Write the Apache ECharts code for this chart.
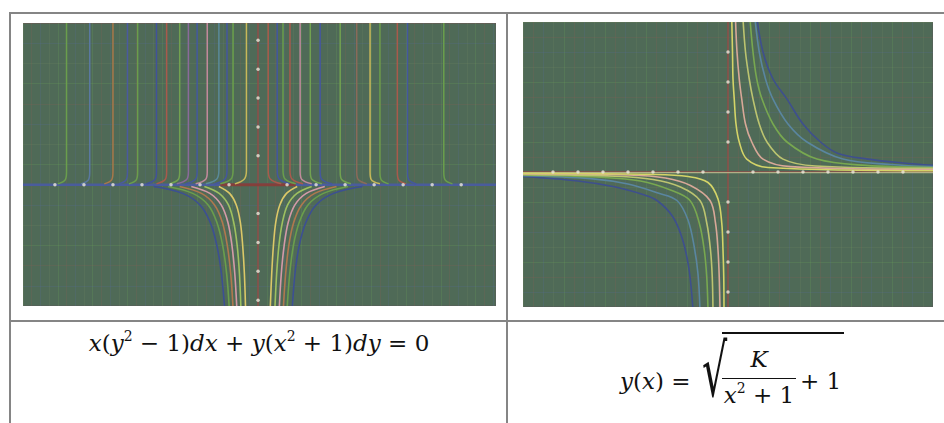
<!DOCTYPE html>
<html>
<head>
<meta charset="utf-8">
<script src="https://cdn.jsdelivr.net/npm/echarts@6/dist/echarts.min.js"></script>
<style>
  html, body { margin: 0; padding: 0; background: #fff; }
  body { width: 944px; height: 423px; position: relative; overflow: hidden; }
  .rule { position: absolute; background: #858585; }
  .plot { position: absolute; }
  .formula { position: absolute; font-family: "DejaVu Serif", serif; font-size: 23px; color: #111; white-space: nowrap; }
  .formula i { font-style: italic; }
  .formula sup { font-size: 14px; vertical-align: 10px; line-height: 0; }
</style>
</head>
<body>
<!-- table rules -->
<div class="rule" style="left:9px;top:12px;width:935px;height:2px"></div>
<div class="rule" style="left:9px;top:12px;width:2px;height:411px"></div>
<div class="rule" style="left:506px;top:12px;width:2px;height:411px"></div>
<div class="rule" style="left:9px;top:320px;width:935px;height:2px"></div>

<div id="left" class="plot" style="left:23px;top:23px;width:473px;height:283px"></div>
<div id="right" class="plot" style="left:523px;top:22px;width:410px;height:285px"></div>

<div class="formula" id="f1" style="left:4px;width:510px;top:330px;text-align:center">
  <i>x</i>(<i>y</i><sup>2</sup> − 1)<i>dx</i> + <i>y</i>(<i>x</i><sup>2</sup> + 1)<i>dy</i> = 0
</div>

<div class="formula" id="f2" style="left:620px;top:330px;height:90px">
  <span style="position:absolute;left:0;top:38px"><i>y</i>(<i>x</i>) =</span>
  <span style="position:absolute;left:82px;top:-2px;font-size:72px;line-height:86px;transform:scaleX(0.55);transform-origin:left">√</span>
  <span style="position:absolute;left:102px;top:2px;width:122px;height:0;border-top:2px solid #111"></span>
  <span style="position:absolute;left:102px;top:16px;width:74px;text-align:center"><i>K</i></span>
  <span style="position:absolute;left:102px;top:48px;width:74px;height:0;border-top:1.5px solid #111"></span>
  <span style="position:absolute;left:102px;top:52px;width:74px;text-align:center"><i>x</i><sup>2</sup> + 1</span>
  <span style="position:absolute;left:180px;top:38px">+ 1</span>
</div>

<script>
// ---- left plot data: x(y^2-1)dx + y(x^2+1)dy = 0 ----
const leftXRange = [-8.1, 8.2];
const leftYRange = [-4.2, 5.6];
const leftTickX = [-7, -6, -5, -4, -3, -2, -1, 1, 2, 3, 4, 5, 6, 7];
const leftTickY = [-4, -3, -2, -1, 1, 2, 3, 4, 5];

// near-vertical branches above the axis
const leftUpperCurves = [
  [[-6.6, 5.7], [-6.6, 0.45], [-6.64, 0.18], [-6.9, 0.03]],
  [[-5.8, 5.7], [-5.8, 0.45], [-5.84, 0.18], [-6.1, 0.03]],
  [[-5.0, 5.7], [-5.0, 0.45], [-5.04, 0.18], [-5.3, 0.03]],
  [[-4.5, 5.7], [-4.5, 0.45], [-4.54, 0.18], [-4.8, 0.03]],
  [[-4.15, 5.7], [-4.15, 0.45], [-4.19, 0.18], [-4.45, 0.03]],
  [[-3.5, 5.7], [-3.5, 0.45], [-3.55, 0.18], [-3.85, 0.03]],
  [[-3.15, 5.7], [-3.15, 0.45], [-3.2, 0.18], [-3.5, 0.03]],
  [[-2.7, 5.7], [-2.7, 0.45], [-2.75, 0.18], [-3.05, 0.03]],
  [[-2.4, 5.7], [-2.4, 0.45], [-2.46, 0.18], [-2.8, 0.03]],
  [[-2.1, 5.7], [-2.1, 0.45], [-2.16, 0.18], [-2.5, 0.03]],
  [[-1.75, 5.7], [-1.75, 0.45], [-1.81, 0.18], [-2.15, 0.03]],
  [[-1.35, 5.7], [-1.35, 0.5], [-1.42, 0.2], [-1.8, 0.03]],
  [[-1.07, 5.7], [-1.07, 0.5], [-1.14, 0.2], [-1.5, 0.03]],
  [[-0.86, 5.7], [-0.86, 0.5], [-0.93, 0.2], [-1.3, 0.03]],
  [[-0.4, 5.7], [-0.4, 0.5], [-0.47, 0.2], [-0.8, 0.03]],
  [[0.35, 5.7], [0.35, 0.5], [0.42, 0.2], [0.8, 0.03]],
  [[0.66, 5.7], [0.66, 0.5], [0.73, 0.2], [1.1, 0.03]],
  [[0.86, 5.7], [0.86, 0.5], [0.93, 0.2], [1.3, 0.03]],
  [[1.1, 5.7], [1.1, 0.5], [1.17, 0.2], [1.55, 0.03]],
  [[1.45, 5.7], [1.45, 0.45], [1.51, 0.18], [1.85, 0.03]],
  [[1.8, 5.7], [1.8, 0.45], [1.86, 0.18], [2.2, 0.03]],
  [[2.14, 5.7], [2.14, 0.45], [2.2, 0.18], [2.55, 0.03]],
  [[2.83, 5.7], [2.83, 0.45], [2.88, 0.18], [3.2, 0.03]],
  [[3.4, 5.7], [3.4, 0.45], [3.45, 0.18], [3.75, 0.03]],
  [[3.86, 5.7], [3.86, 0.45], [3.9, 0.18], [4.2, 0.03]],
  [[4.2, 5.7], [4.2, 0.45], [4.24, 0.18], [4.5, 0.03]],
  [[4.8, 5.7], [4.8, 0.45], [4.84, 0.18], [5.1, 0.03]],
  [[5.15, 5.7], [5.15, 0.45], [5.19, 0.18], [5.45, 0.03]],
  [[6.4, 5.7], [6.4, 0.45], [6.44, 0.18], [6.7, 0.03]]
];
const leftUpperColors = ['#6a9e4c', '#5a78a0', '#a8784a', '#4a5a9e', '#6a9e4c', '#41529a', '#a85a4c',
  '#72a250', '#8a6a9a', '#44579e', '#c08a9c', '#5a8a9a', '#44579e', '#6a9e4c', '#c8b85a', '#a85a4c',
  '#44579e', '#6a9e4c', '#a85a4c', '#c08a9c', '#72a250', '#44579e', '#72a250', '#8a6a5a', '#c8b85a',
  '#6a9e4c', '#a85a4c', '#44579e', '#6a9e4c'];

// funnel branches below the axis
const leftLowerCurves = [
  [[-3.6, -0.06], [-2.6, -0.3], [-2.0, -0.7], [-1.65, -1.3], [-1.42, -2.1], [-1.26, -3.1], [-1.15, -4.3]],
  [[-3.1, -0.06], [-2.25, -0.3], [-1.72, -0.7], [-1.42, -1.3], [-1.22, -2.1], [-1.08, -3.1], [-0.99, -4.3]],
  [[-2.7, -0.06], [-1.95, -0.3], [-1.5, -0.7], [-1.23, -1.3], [-1.06, -2.1], [-0.94, -3.1], [-0.86, -4.3]],
  [[-2.3, -0.06], [-1.66, -0.3], [-1.27, -0.7], [-1.04, -1.3], [-0.9, -2.1], [-0.8, -3.1], [-0.73, -4.3]],
  [[-1.85, -0.06], [-1.34, -0.3], [-1.02, -0.7], [-0.84, -1.3], [-0.72, -2.1], [-0.64, -3.1], [-0.59, -4.3]],
  [[-1.35, -0.06], [-0.98, -0.3], [-0.75, -0.7], [-0.61, -1.3], [-0.53, -2.1], [-0.47, -3.1], [-0.43, -4.3]],
  [[3.6, -0.06], [2.6, -0.3], [2.0, -0.7], [1.65, -1.3], [1.42, -2.1], [1.27, -3.1], [1.18, -4.3]],
  [[3.1, -0.06], [2.25, -0.3], [1.72, -0.7], [1.42, -1.3], [1.22, -2.1], [1.09, -3.1], [1.0, -4.3]],
  [[2.7, -0.06], [1.95, -0.3], [1.5, -0.7], [1.23, -1.3], [1.06, -2.1], [0.95, -3.1], [0.87, -4.3]],
  [[2.3, -0.06], [1.66, -0.3], [1.27, -0.7], [1.04, -1.3], [0.9, -2.1], [0.8, -3.1], [0.73, -4.3]],
  [[1.85, -0.06], [1.34, -0.3], [1.02, -0.7], [0.84, -1.3], [0.72, -2.1], [0.64, -3.1], [0.58, -4.3]],
  [[1.35, -0.06], [0.98, -0.3], [0.75, -0.7], [0.61, -1.3], [0.53, -2.1], [0.47, -3.1], [0.42, -4.3]]
];
const leftLowerColors = ['#3c4f94', '#6a9e4c', '#b0784e', '#d49aa8', '#9ec060', '#dcc868',
  '#3c4f94', '#6a9e4c', '#b0784e', '#d49aa8', '#9ec060', '#dcc868'];

// ---- right plot data: y(x) = sqrt(K/(x^2+1) + 1) ----
const rightXRange = [-8.2, 8.2];
const rightYRange = [-4.5, 5.0];
const rightTickX = [-7, -6, -5, -4, -3, -2, -1, 1, 2, 3, 4, 5, 6, 7];
const rightTickY = [-4, -3, -2, -1, 1, 2, 3, 4];

const rightUpperCurves = [
  [[1.16, 5.1], [1.4, 4.0], [1.8, 3.1], [2.36, 2.43], [3.0, 1.6], [3.7, 1.0], [4.4, 0.62], [5.6, 0.43], [7.0, 0.3], [8.2, 0.22]],
  [[1.08, 5.1], [1.25, 4.0], [1.5, 3.1], [1.8, 2.43], [2.4, 1.6], [3.16, 1.0], [4.6, 0.43], [6.5, 0.25], [8.2, 0.18]],
  [[0.88, 5.1], [1.0, 4.0], [1.15, 3.1], [1.36, 2.43], [1.8, 1.6], [2.36, 1.0], [3.56, 0.43], [5.5, 0.22], [8.2, 0.15]],
  [[0.6, 5.1], [0.7, 4.0], [0.85, 3.1], [1.0, 2.43], [1.25, 1.6], [1.56, 1.0], [2.2, 0.43], [3.5, 0.2], [8.2, 0.12]],
  [[0.3, 5.1], [0.36, 4.0], [0.45, 3.1], [0.55, 2.43], [0.7, 1.6], [0.95, 1.0], [1.4, 0.43], [2.5, 0.18], [8.2, 0.08]],
  [[0.15, 5.1], [0.18, 4.0], [0.2, 3.1], [0.25, 2.43], [0.32, 1.6], [0.45, 1.0], [0.75, 0.43], [1.6, 0.15], [8.2, 0.04]]
];
const rightLowerCurves = [
  [[-8.2, -0.15], [-6.0, -0.3], [-4.5, -0.5], [-3.4, -0.75], [-2.84, -0.95], [-2.2, -1.5], [-1.8, -2.3], [-1.55, -3.3], [-1.4, -4.6]],
  [[-8.2, -0.12], [-5.5, -0.22], [-4.0, -0.4], [-2.8, -0.7], [-2.04, -0.95], [-1.6, -1.6], [-1.35, -2.5], [-1.2, -3.4], [-1.12, -4.6]],
  [[-8.2, -0.1], [-5.0, -0.18], [-3.5, -0.3], [-2.3, -0.6], [-1.52, -0.95], [-1.15, -1.7], [-0.95, -2.6], [-0.85, -3.5], [-0.8, -4.6]],
  [[-8.2, -0.08], [-4.5, -0.14], [-3.0, -0.25], [-1.9, -0.5], [-1.12, -0.95], [-0.85, -1.7], [-0.7, -2.6], [-0.63, -3.5], [-0.6, -4.6]],
  [[-8.2, -0.06], [-4.0, -0.1], [-2.5, -0.2], [-1.5, -0.45], [-0.72, -0.95], [-0.5, -1.7], [-0.4, -2.6], [-0.35, -3.5], [-0.32, -4.6]],
  [[-8.2, -0.04], [-3.0, -0.08], [-1.6, -0.15], [-0.8, -0.35], [-0.4, -0.9], [-0.25, -1.7], [-0.2, -2.6], [-0.17, -3.5], [-0.16, -4.6]]
];
const rightColors = ['#3e4f8e', '#5a86a0', '#78a850', '#bcc470', '#d8a898', '#d4d468'];

const BG = '#4f6a57';
const stripeColors = ['rgba(110,170,90,0.22)', 'rgba(160,90,80,0.16)', 'rgba(90,110,170,0.18)', 'rgba(140,160,110,0.12)'];

function curveSeries(curves, colors, width) {
  return curves.map((pts, i) => ({
    type: 'line', data: pts, showSymbol: false, smooth: 0.35, silent: true,
    lineStyle: { color: colors[i % colors.length], width: width }
  }));
}

function tickSeries(xs, ys) {
  return {
    type: 'scatter', silent: true, symbolSize: 3.5, z: 5,
    itemStyle: { color: '#ece8dc' },
    data: xs.map(v => [v, 0]).concat(ys.map(v => [0, v]))
  };
}

function baseOption(xr, yr, xStep, yStep) {
  return {
    animation: false,
    backgroundColor: BG,
    grid: { left: 0, right: 0, top: 0, bottom: 0, show: true, borderColor: '#5a5a5a', borderWidth: 1, backgroundColor: BG },
    xAxis: {
      type: 'value', min: xr[0], max: xr[1], interval: xStep,
      axisLabel: { show: false }, axisTick: { show: false },
      axisLine: { onZero: true, lineStyle: { color: '#8e4e48', width: 1.5 } },
      splitLine: { show: true, lineStyle: { color: stripeColors, width: 1 } }
    },
    yAxis: {
      type: 'value', min: yr[0], max: yr[1], interval: yStep,
      axisLabel: { show: false }, axisTick: { show: false },
      axisLine: { onZero: true, lineStyle: { color: '#8e4e48', width: 1.5 } },
      splitLine: { show: true, lineStyle: { color: stripeColors.slice().reverse(), width: 1 } }
    }
  };
}

// left chart
const leftChart = echarts.init(document.getElementById('left'), null, { renderer: 'canvas' });
const leftOpt = baseOption(leftXRange, leftYRange, 0.3, 0.7);
leftOpt.series = [].concat(
  [{ type: 'line', data: [[-8.1, 0], [8.2, 0]], showSymbol: false, silent: true, lineStyle: { color: '#4a5c9c', width: 2.5 } },
   { type: 'line', data: [[-1.3, 0], [1.3, 0]], showSymbol: false, silent: true, lineStyle: { color: '#84403a', width: 3 } }],
  curveSeries(leftUpperCurves, leftUpperColors, 1.5),
  curveSeries(leftLowerCurves, leftLowerColors, 1.6),
  [tickSeries(leftTickX, leftTickY)]
);
leftChart.setOption(leftOpt);

// right chart
const rightChart = echarts.init(document.getElementById('right'), null, { renderer: 'canvas' });
const rightOpt = baseOption(rightXRange, rightYRange, 0.41, 0.5);
rightOpt.series = [].concat(
  [{ type: 'line', data: [[-8.2, -0.02], [8.2, -0.02]], showSymbol: false, silent: true, lineStyle: { color: '#c4cc98', width: 1.2, opacity: 0.75 } }],
  curveSeries(rightUpperCurves, rightColors, 1.6),
  curveSeries(rightLowerCurves, rightColors, 1.6),
  [tickSeries(rightTickX, rightTickY)]
);
rightChart.setOption(rightOpt);
</script>
</body>
</html>
